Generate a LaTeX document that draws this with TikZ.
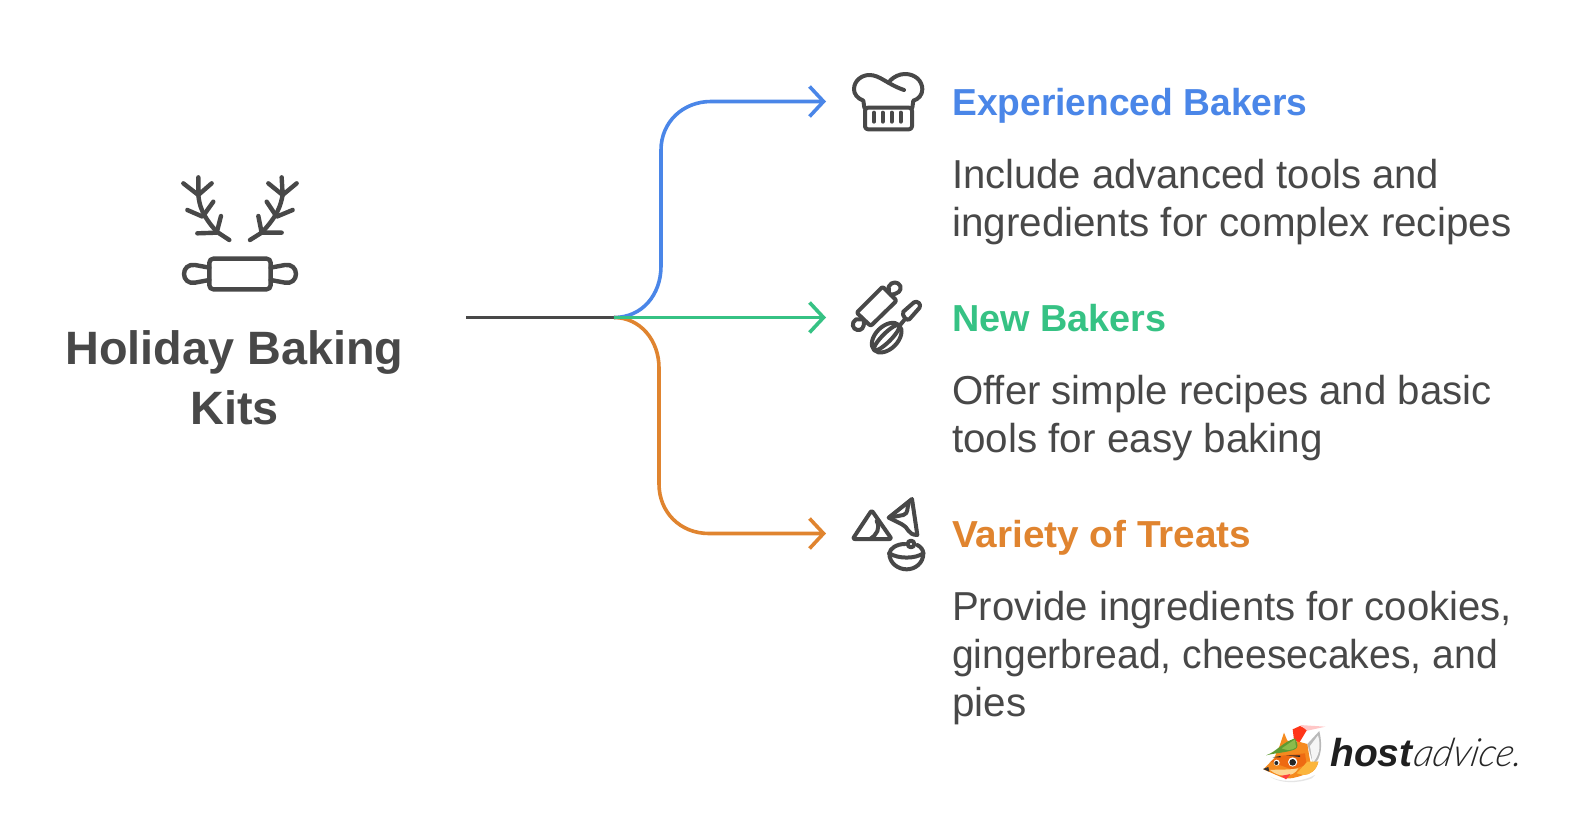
\documentclass[tikz,border=0pt]{standalone}
\usepackage{fontspec}
\usepackage{graphicx}
\setmainfont{Liberation Sans}
\newfontfamily\logolight[FakeSlant=0.2]{Lato Light}
\usetikzlibrary{arrows.meta}
\definecolor{ink}{HTML}{484848}
\definecolor{cblue}{HTML}{4A86E8}
\definecolor{cgreen}{HTML}{36C284}
\definecolor{corange}{HTML}{E0842F}
\definecolor{foxo}{HTML}{F58A1F}
\definecolor{foxd}{HTML}{EE6A12}
\definecolor{foxy}{HTML}{FBB53C}
\definecolor{leaf}{HTML}{5E9A32}
\definecolor{leafl}{HTML}{8ABB4C}
\newcommand{\xs}[2]{\scalebox{#1}[1]{#2}}
\tikzset{
  icon/.style={draw=ink,line width=4.4pt,line cap=round,line join=round},
  iconthin/.style={draw=ink,line width=4pt,line cap=round,line join=round},
  link/.style={line width=3.6pt,-{Straight Barb[length=14pt,width=30pt,line width=3.6pt]}},
  head/.style={anchor=base west,inner sep=0pt,font=\fontsize{37.6}{46}\selectfont\bfseries},
  body/.style={anchor=west,inner sep=0pt,align=left,text=ink,font=\fontsize{40.4}{48.3}\selectfont},
  title/.style={inner sep=0pt,align=center,text=ink,font=\fontsize{46.8}{60}\selectfont\bfseries}
}
\begin{document}
\begin{tikzpicture}[x=1pt,y=-1pt]
\useasboundingbox (0,0) rectangle (1580,820);
\fill[white] (0,0) rectangle (1580,820);

% title
\node[title] (main) at (234.5,378) {Holiday Baking\\Kits};
\coordinate (start) at (466,317.5);
\coordinate (hub) at (614,317.5);

% arrow ends
\coordinate (endA) at (826,101.5);
\coordinate (endB) at (826,317.5);
\coordinate (endC) at (826,533.5);

\draw[line width=3.6pt,ink] (start) -- (hub);
\draw[link,cblue] (hub) .. controls (642,317.5) and (661,295) .. (661,266) -- (661,150) .. controls (661,122) and (683,101.5) .. (711,101.5) -- (endA);
\draw[link,corange] (hub) .. controls (640,317.5) and (659,340) .. (659,368) -- (659,484) .. controls (659,512) and (680,533.5) .. (709,533.5) -- (endC);
\draw[link,cgreen] (hub) -- (endB);

% headings and descriptions
\node[head,text=cblue] (h1) at (952,115.5) {\xs{.989}{Experienced Bakers}};
\node[body] (b1) at (952,202) {\xs{.99}{Include advanced tools and}\\ingredients for complex recipes};
\node[head,text=cgreen] (h2) at (952,331.5) {\xs{1.005}{New Bakers}};
\node[body] (b2) at (952,418) {\xs{.994}{Offer simple recipes and basic}\\tools for easy baking};
\node[head,text=corange] (h3) at (952,547.5) {\xs{1.03}{Variety of Treats}};
\node[body] (b3) at (952,658) {\xs{.993}{Provide ingredients for cookies,}\\\xs{.968}{gingerbread, cheesecakes, and}\\pies};

% antlers and rolling pin
\begin{scope}[shift={(160,160)},x=0.3333pt,y=-0.3333pt]
\draw[icon] (115,105) .. controls (118,135) and (125,165) .. (170,215) -- (208,240);
\draw[icon] (70,70) -- (115,105) -- (155,70) (115,52) -- (115,105);
\draw[icon] (82,150) -- (128,170) -- (160,125);
\draw[icon] (112,220) -- (170,218) -- (183,168);
\draw[icon] (368,105) .. controls (362,135) and (355,165) .. (305,218) -- (270,240);
\draw[icon] (325,70) -- (368,105) -- (410,70) (365,52) -- (368,105);
\draw[icon] (320,125) -- (350,170) -- (398,150);
\draw[icon] (295,168) -- (305,218) -- (365,218);
\draw[icon,rounded corners=4pt] (148,296) rectangle (332,388);
\draw[icon] (148,323) -- (105,315) .. controls (85,312) and (72,325) .. (72,342) .. controls (72,358) and (85,372) .. (105,368) -- (148,360);
\draw[icon] (332,323) -- (375,315) .. controls (395,312) and (408,325) .. (408,342) .. controls (408,358) and (395,372) .. (375,368) -- (332,360);
\end{scope}

% chef hat
\begin{scope}[shift={(830,60)},x=0.3333pt,y=-0.3333pt]
\draw[iconthin,rounded corners=3pt] (105,143) rectangle (246,208);
\draw[iconthin] (132,158) -- (132,185) (158,158) -- (158,185) (185,158) -- (185,185) (212,158) -- (212,185);
\draw[iconthin] (103,143) -- (100,122) .. controls (82,115) and (72,102) .. (72,88) .. controls (72,62) and (95,45) .. (118,45) .. controls (150,45) and (170,72) .. (222,90);
\draw[iconthin] (180,62) .. controls (192,50) and (208,42) .. (225,42) .. controls (255,42) and (277,62) .. (277,88) .. controls (277,105) and (265,118) .. (250,122) -- (247,143);
\end{scope}

% rolling pin and whisk
\begin{scope}[shift={(830,270)},x=0.3333pt,y=-0.3333pt]
\draw[iconthin,rounded corners=2pt] (158,50) -- (200,92) -- (122,168) -- (80,128) -- cycle;
\draw[iconthin] (177,68) -- (176,50) .. controls (185,32) and (205,35) .. (211,48) .. controls (215,62) and (205,72) .. (182,74);
\draw[iconthin] (98,148) -- (78,148) .. controls (62,158) and (68,178) .. (82,180) .. controls (95,182) and (103,172) .. (102,155);
\draw[iconthin] (220,125) -- (252,97) .. controls (262,90) and (276,104) .. (268,114) -- (238,148) .. controls (232,154) and (214,138) .. (220,125);
\draw[iconthin] (226,146) -- (208,168);
\draw[iconthin,shift={(170,203)},rotate=45] (0,0) ellipse (53 and 34);
\draw[iconthin,shift={(170,203)},rotate=45] (0,0) ellipse (53 and 13);
\end{scope}

% treats
\begin{scope}[shift={(830,485)},x=0.3333pt,y=-0.3333pt]
\draw[iconthin,rounded corners=2pt] (125,76) -- (68,162) -- (185,162) -- cycle;
\draw[iconthin] (140,108) .. controls (152,130) and (140,150) .. (120,162);
\draw[iconthin] (246,42) -- (176,98) -- (216,118) .. controls (235,125) and (232,150) .. (262,150) -- cycle;
\draw[iconthin] (236,55) .. controls (230,70) and (236,85) .. (220,90) -- (178,98);
\draw[iconthin] (243,177) circle (10);
\draw[iconthin] (178,205) .. controls (180,190) and (200,177) .. (225,177);
\draw[iconthin] (262,180) .. controls (272,185) and (280,195) .. (280,205);
\draw[iconthin] (178,205) .. controls (205,222) and (255,222) .. (280,205);
\draw[iconthin] (178,205) .. controls (178,235) and (205,253) .. (230,253) .. controls (255,253) and (280,235) .. (280,205);
\end{scope}

% logo
\begin{scope}[shift={(1250,720)},x=0.3333pt,y=-0.3333pt]
\fill[black!10] (60,170) .. controls (100,190) and (160,185) .. (195,165) -- (185,175) .. controls (140,192) and (90,190) .. (60,170);
\fill[gray!55] (172,72) -- (208,33) .. controls (218,75) and (215,115) .. (190,135) -- cycle;
\fill[black!4] (180,78) -- (204,46) .. controls (214,80) and (207,110) .. (188,128) -- cycle;
\fill[red!75!orange!90] (128,28) -- (150,18) -- (172,28) -- (148,68) -- (132,60) -- cycle;
\fill[red!22] (150,15) -- (226,20) -- (172,32) -- cycle;
\fill[foxo] (88,80) -- (102,38) -- (112,62) -- (150,66) -- (172,72) -- (178,110) -- (182,130) -- (205,125) .. controls (200,150) and (180,165) .. (160,165) .. controls (140,172) and (115,180) .. (95,172) -- (40,148) -- (72,115) -- cycle;
\fill[foxd] (62,125) -- (85,108) -- (165,100) -- (170,135) -- (125,148) -- cycle;
\fill[foxy] (140,160) -- (172,125) -- (205,125) .. controls (200,150) and (180,165) .. (160,165) -- cycle;
\fill[foxy!55!white] (60,150) .. controls (85,148) and (120,150) .. (145,145) .. controls (130,172) and (90,175) .. (60,150);
\fill[black!80] (39,147) -- (55,141) -- (58,155) -- cycle;
\fill[red!75] (92,168) -- (122,162) -- (108,178) -- cycle;
\fill[leaf] (48,106) .. controls (80,95) and (95,68) .. (135,55) .. controls (145,75) and (145,82) .. (135,88) .. controls (110,98) and (80,98) .. (48,106);
\fill[leafl] (95,85) -- (135,58) -- (138,82) .. controls (125,92) and (110,92) .. (95,85);
\fill[white] (80,128) circle (9) (128,126) circle (14);
\fill[black!85] (79,129) circle (6) (128,127) circle (10);
\fill[black!85] (68,112) -- (92,108) -- (92,112) -- cycle (108,106) -- (150,106) -- (150,111) -- cycle;
\end{scope}
\node[anchor=base west,inner sep=0pt,font=\fontsize{39}{39}\selectfont\itshape,text=black!88] (logo) at (1330,766.5) {\bfseries host\mdseries\textcolor{black!85}{\logolight\fontsize{39}{39}\selectfont\xs{.98}{advice.}}};
\end{tikzpicture}
\end{document}
